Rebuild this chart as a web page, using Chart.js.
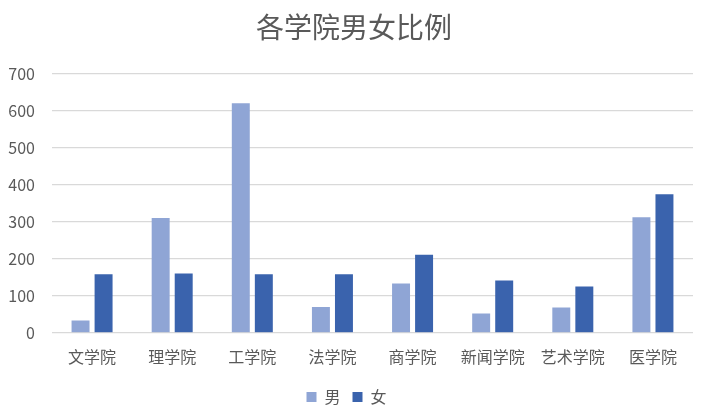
<!DOCTYPE html>
<html>
<head>
<meta charset="utf-8">
<script src="https://cdn.jsdelivr.net/npm/chart.js@4"></script>
<style>
  html, body { margin: 0; padding: 0; background: #fff; }
  #wrap { width: 704px; height: 416px; }
</style>
</head>
<body>
<div id="wrap"><canvas id="chart"></canvas></div>
<script>
// data
const colleges = ['文学院', '理学院', '工学院', '法学院', '商学院', '新闻学院', '艺术学院', '医学院'];
const male = [33, 310, 620, 70, 133, 52, 68, 312];
const female = [158, 160, 158, 158, 211, 141, 125, 374];
const titleText = '各学院男女比例';

const font = "'Noto Sans CJK SC', 'Noto Sans', sans-serif";
const grey = '#595959';

// the built-in title only reserves the space; this draws it centred over the plot like Excel does
const centredTitle = {
    id: 'centredTitle',
    afterDraw(chart) {
        const t = chart.titleBlock;
        const ctx = chart.ctx;
        ctx.save();
        ctx.font = '28px ' + font;
        ctx.fillStyle = grey;
        ctx.textAlign = 'center';
        ctx.textBaseline = 'middle';
        ctx.fillText(titleText, 354, (t.top + t.bottom - 29 + 11) / 2);
        ctx.restore();
    }
};

new Chart(document.getElementById('chart').getContext('2d'), {
    type: 'bar',
    data: {
        labels: colleges,
        datasets: [
            { label: '男', data: male, backgroundColor: '#8FA5D5' },
            { label: '女', data: female, backgroundColor: '#3A63AD' }
        ]
    },
    options: {
        responsive: true,
        maintainAspectRatio: false,
        animation: false,
        categoryPercentage: 0.575,
        barPercentage: 0.78,
        layout: { padding: { left: 0, right: 11, top: 0, bottom: 1 } },
        plugins: {
            title: {
                display: true,
                text: titleText,
                color: 'rgba(0,0,0,0)',
                font: { family: font, size: 28, weight: 'normal' },
                padding: { top: 11, bottom: 29 }
            },
            legend: {
                position: 'bottom',
                labels: {
                    color: grey,
                    boxWidth: 10,
                    boxHeight: 10,
                    padding: 12,
                    font: { family: font, size: 16 }
                }
            },
            tooltip: { enabled: false }
        },
        scales: {
            x: {
                grid: { display: false },
                border: { display: false },
                ticks: { color: grey, padding: 7, font: { family: font, size: 16 } },
                afterFit: scale => { scale.height += 3; }
            },
            y: {
                min: 0,
                max: 700,
                ticks: { stepSize: 100, color: grey, padding: 17, font: { family: font, size: 16 } },
                grid: { color: '#D9D9D9', lineWidth: 1.3, drawTicks: false },
                border: { display: false },
                afterFit: scale => { scale.width = 52; }
            }
        }
    },
    plugins: [centredTitle]
});
</script>
</body>
</html>
